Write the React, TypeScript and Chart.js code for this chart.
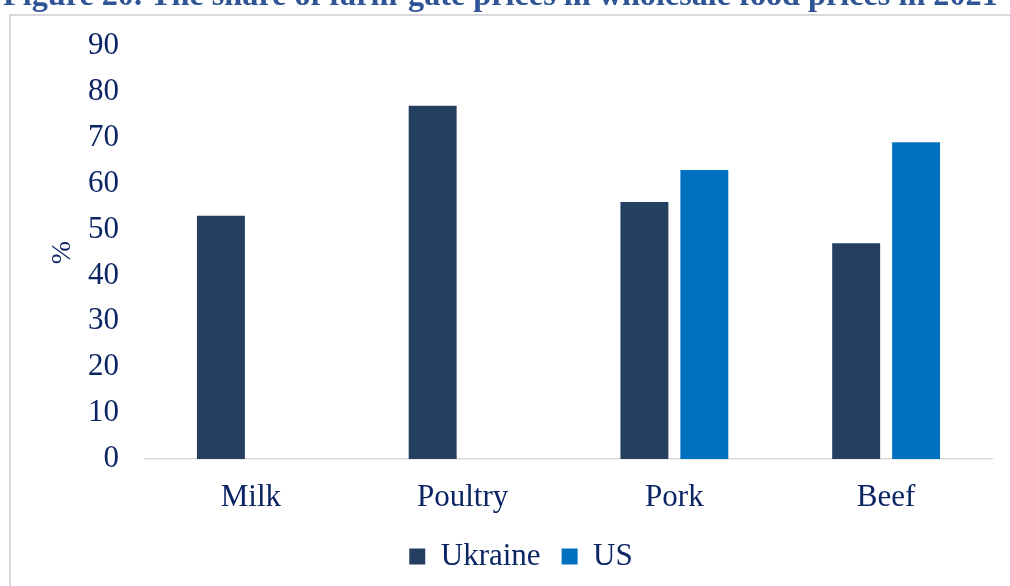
import React, { useEffect, useRef } from "react";
import { Chart, registerables } from "chart.js";

Chart.register(...registerables);

const TITLE = "Figure 20. The share of farm-gate prices in wholesale food prices in 2021";
const categories = ["Milk", "Poultry", "Pork", "Beef"];
const ukraine = [53, 77, 56, 47];
const us: (number | null)[] = [null, null, 63, 69];
const yTicks = [0, 10, 20, 30, 40, 50, 60, 70, 80, 90];

const TEXT = "#0B2463";
const FONT = '"Liberation Serif", "Times New Roman", serif';

const framePlugin = {
  id: "frameTitle",
  beforeDraw(chart: any) {
    const ctx = chart.ctx;
    ctx.save();
    ctx.fillStyle = "#ffffff";
    ctx.fillRect(0, 0, chart.width, chart.height);
    ctx.strokeStyle = "#D9D9D9";
    ctx.lineWidth = 2;
    ctx.beginPath();
    ctx.moveTo(10, chart.height + 5);
    ctx.lineTo(10, 15);
    ctx.lineTo(chart.width + 5, 15);
    ctx.stroke();
    // clipped title
    ctx.font = `bold 30px ${FONT}`;
    const w = ctx.measureText(TITLE).width;
    const size = (30 * 995) / w;
    ctx.font = `bold ${size}px ${FONT}`;
    ctx.fillStyle = "#2F5597";
    ctx.textBaseline = "alphabetic";
    ctx.textAlign = "left";
    ctx.fillText(TITLE, 3, 5);
    ctx.restore();
  },
  afterLayout(chart: any) {
    const lg = chart.legend;
    if (lg) {
      lg.left += 25;
      lg.right += 25;
      lg.top -= 4;
      lg.bottom -= 4;
      if (lg.adjustHitBoxes) lg.adjustHitBoxes();
    }
  },
};

export default function App() {
  const ref = useRef<HTMLCanvasElement | null>(null);
  useEffect(() => {
    document.body.style.margin = "0";
    const chart = new Chart(ref.current as HTMLCanvasElement, {
      type: "bar",
      data: {
        labels: categories,
        datasets: [
          {
            label: "Ukraine",
            data: ukraine,
            backgroundColor: "#243F60",
            barPercentage: 0.8,
            categoryPercentage: 0.566,
          },
          {
            label: "US",
            data: us,
            backgroundColor: "#0070C0",
            barPercentage: 0.8,
            categoryPercentage: 0.566,
          },
        ],
      },
      options: {
        responsive: false,
        animation: false,
        layout: { padding: { left: 0, right: 18, top: 46, bottom: 0 } },
        plugins: {
          legend: {
            position: "bottom",
            labels: {
              boxWidth: 16,
              boxHeight: 16,
              padding: 21,
              color: TEXT,
              font: { family: FONT, size: 31 },
            },
          },
          tooltip: { enabled: false },
          title: { display: false },
        },
        scales: {
          x: {
            grid: { display: false, drawTicks: false },
            border: { display: true, color: "#D9D9D9", width: 1.5 },
            ticks: {
              color: TEXT,
              font: { family: FONT, size: 31 },
              padding: 20,
            },
            afterFit(scale: any) {
              const lh = scale.chart.legend ? scale.chart.legend.height : 0;
              scale.height = 586 - 459 - lh;
            },
          },
          y: {
            min: 0,
            max: 90,
            afterBuildTicks(scale: any) {
              scale.ticks = yTicks.map((v) => ({ value: v }));
            },
            grid: { display: false, drawTicks: false },
            border: { display: false },
            ticks: {
              color: TEXT,
              font: { family: FONT, size: 31 },
              padding: 26,
            },
            title: {
              display: true,
              text: "%",
              color: TEXT,
              font: { family: FONT, size: 28 },
              padding: { top: 46, bottom: 0 },
            },
            afterFit(scale: any) {
              scale.width = 145;
            },
          },
        },
      },
      plugins: [framePlugin],
    });
    return () => chart.destroy();
  }, []);
  return (
    <div style={{ width: 1010, height: 586 }}>
      <canvas ref={ref} width={1010} height={586} />
    </div>
  );
}
